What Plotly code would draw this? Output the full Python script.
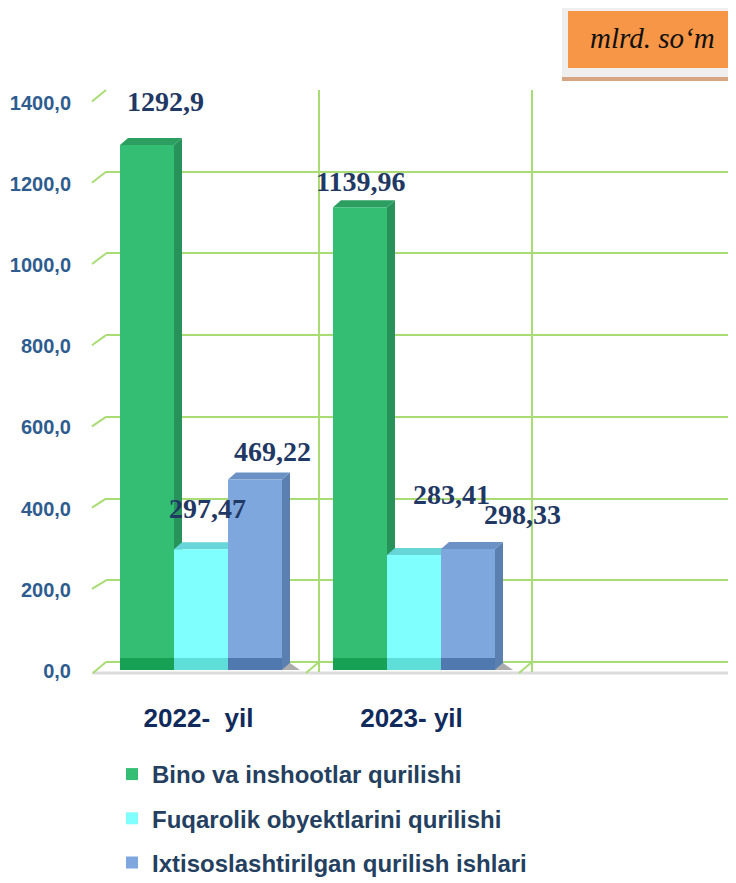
import plotly.graph_objects as go

# ---- data ----
categories = ["2022- yil", "2023- yil", " "]
tick_labels = ["2022-\u00a0 yil", "2023- yil", ""]
series_names = ["Bino va inshootlar qurilishi",
                "Fuqarolik obyektlarini qurilishi",
                "Ixtisoslashtirilgan qurilish ishlari"]
bino = [1292.9, 1139.96]
fuqarolik = [297.47, 283.41]
ixtisos = [469.22, 298.33]
bino_txt = ["1292,9", "1139,96"]
fuqarolik_txt = ["297,47", "283,41"]
ixtisos_txt = ["469,22", "298,33"]
y_ticks = [0, 200, 400, 600, 800, 1000, 1200, 1400]
y_tick_labels = ["0,0", "200,0", "400,0", "600,0", "800,0", "1000,0", "1200,0", "1400,0"]
unit_label = "mlrd. so\u2018m"

# ---- geometry (reference pixels; page has an 8px body margin) ----
OFF = 8
W, H = 736 - OFF, 883 - OFF
R_ML, R_MT, R_PB = 106, 90, 672
ML, MT = R_ML - OFF, R_MT - OFF
PB = R_PB - OFF
MB = H - PB
PW, PH = W - ML, PB - MT
CAT_PX = 213
XR = [-0.5, -0.5 + PW / CAT_PX]
back_ppu = (662 - 90) / 1400          # back wall grid: 0 at 662, 1400 at 90
YR_BACK = [-(R_PB - 662) / back_ppu, -(R_PB - 662) / back_ppu + PH / back_ppu]
front_ppu = 0.406                      # front plane (bars): 0 at 670
YR_FRONT = [-(R_PB - 670) / front_ppu, -(R_PB - 670) / front_ppu + PH / front_ppu]

front = ["#33BE73", "#80FFFF", "#7EA7DD"]
side = ["#27935A", "#5CCFD2", "#5B7FAE"]
top = ["#2C9F60", "#66D6D8", "#6C91C4"]
band = ["#16A154", "#5EDDD9", "#5079B0"]
bar_w = 54 / CAT_PX
offsets = [-92.5 / CAT_PX, -38.5 / CAT_PX, 15.5 / CAT_PX]
dx = 8 / CAT_PX
dy = 7 / front_ppu

label_font = dict(family="Liberation Serif, Times New Roman, serif", size=28,
                  color="#1F3864", weight="bold")
sans = "Liberation Sans, Arial, sans-serif"
lab_shift = [[(18, 44), (0, 26)], [(6, 41), (37, 60)], [(17, 28), (54, 34)]]

series = [bino, fuqarolik, ixtisos]
texts = [bino_txt, fuqarolik_txt, ixtisos_txt]


def px_x(p):
    return (p - OFF - ML) / PW


def px_y(p):
    return (PB - (p - OFF)) / PH


grid_col = "#A9DC74"
fig = go.Figure()
shapes = []
annotations = []

# floor
shapes.append(dict(type="line", xref="paper", yref="paper", layer="below",
                   x0=px_x(92), y0=px_y(673), x1=1.02, y1=px_y(673),
                   line=dict(color="#DCDCDC", width=3)))
for b in range(0, 3):
    bx = R_ML + b * CAT_PX
    shapes.append(dict(type="line", xref="paper", yref="paper", layer="below",
                       x0=px_x(bx - 13), y0=px_y(673), x1=px_x(bx), y1=px_y(662),
                       line=dict(color=grid_col, width=2)))
# left wall slants
for t in y_ticks[1:]:
    shapes.append(dict(type="line", xref="paper", yref="paper", layer="below",
                       x0=px_x(92), y0=px_y(670 - t * front_ppu),
                       x1=px_x(R_ML), y1=px_y(662 - t * back_ppu),
                       line=dict(color=grid_col, width=2)))

for i, (name, vals) in enumerate(zip(series_names, series)):
    fig.add_trace(go.Bar(
        x=categories[:len(vals)], y=vals, name=name, yaxis="y",
        width=bar_w, offset=offsets[i],
        marker=dict(color=front[i], line=dict(width=0)),
        legendgroup=str(i), hoverinfo="skip",
    ))
    for c, v in enumerate(vals):
        x0 = c + offsets[i]
        x1 = x0 + bar_w
        shapes.append(dict(type="path", xref="x", yref="y", layer="between",
                           path=f"M {x1},0 L {x1+dx},{dy} L {x1+dx},{v+dy} L {x1},{v} Z",
                           fillcolor=side[i], line=dict(width=0)))
        shapes.append(dict(type="path", xref="x", yref="y", layer="between",
                           path=f"M {x0},{v} L {x0+dx},{v+dy} L {x1+dx},{v+dy} L {x1},{v} Z",
                           fillcolor=top[i], line=dict(width=0)))
        shapes.append(dict(type="rect", xref="x", yref="y", layer="above",
                           x0=x0, x1=x1, y0=0, y1=12 / front_ppu,
                           fillcolor=band[i], line=dict(width=0)))
        if i == 2:
            sw = 18 / CAT_PX
            shapes.append(dict(type="path", xref="x", yref="y", layer="between",
                               path=f"M {x1},0 L {x1+sw},0 L {x1+dx},{dy} Z",
                               fillcolor="rgba(70,70,70,0.45)", line=dict(width=0)))
        sx, sy = lab_shift[i][c]
        annotations.append(dict(x=x0 + bar_w / 2, y=v, xref="x", yref="y",
                                text=texts[i][c], showarrow=False,
                                xshift=sx, yshift=sy, font=label_font))

# invisible trace so the back-wall grid axis is drawn
fig.add_trace(go.Scatter(x=[categories[0]], y=[0], yaxis="y2", mode="markers",
                         marker=dict(opacity=0), showlegend=False, hoverinfo="skip"))

# unit box
shapes.append(dict(type="rect", xref="paper", yref="paper", layer="above",
                   x0=px_x(562), x1=px_x(745), y0=px_y(78), y1=px_y(0),
                   fillcolor="#EFEFEF", line=dict(width=0)))
shapes.append(dict(type="rect", xref="paper", yref="paper", layer="above",
                   x0=px_x(562), x1=px_x(745), y0=px_y(81), y1=px_y(77),
                   fillcolor="#D6A583", line=dict(width=0)))
shapes.append(dict(type="rect", xref="paper", yref="paper", layer="above",
                   x0=px_x(568), x1=px_x(745), y0=px_y(68), y1=px_y(11),
                   fillcolor="#F79646", line=dict(width=0)))
annotations.append(dict(x=px_x(652), y=px_y(38), xref="paper", yref="paper",
                        xanchor="center", yanchor="middle",
                        text="<i>" + unit_label + "</i>", showarrow=False,
                        font=dict(family="Liberation Serif, Times New Roman, serif",
                                  size=29, color="#111111")))

fig.update_layout(
    width=W, height=H,
    margin=dict(l=ML, r=0, t=MT, b=MB, autoexpand=False),
    paper_bgcolor="white", plot_bgcolor="white",
    barmode="overlay",
    showlegend=True,
    legend=dict(orientation="v", x=px_x(112), y=px_y(752), xanchor="left", yanchor="top",
                font=dict(family=sans, size=24, color="#243F60", weight="bold"),
                traceorder="grouped", tracegroupgap=10, itemwidth=30,
                bgcolor="rgba(0,0,0,0)"),
    shapes=shapes,
    annotations=annotations,
    xaxis=dict(type="category", categoryorder="array", categoryarray=categories,
               tickmode="array", tickvals=categories, ticktext=tick_labels,
               range=XR, tickson="boundaries", showgrid=True, gridcolor=grid_col, gridwidth=2,
               ticks="", showline=False, zeroline=False, automargin=False,
               tickfont=dict(family=sans, size=26, color="#102A5C", weight="bold"),
               ticklabelstandoff=28, ticklabelshift=-14),
    yaxis=dict(range=YR_FRONT, tickmode="array",
               tickvals=y_ticks, ticktext=y_tick_labels, automargin=False,
               showgrid=False, zeroline=False, showline=False, ticks="",
               tickfont=dict(family=sans, size=20, color="#2F5C8F", weight="bold"),
               ticklabelstandoff=34, ticklabelshift=1),
    yaxis2=dict(range=YR_BACK, overlaying="y", side="left", tickmode="array",
                tickvals=y_ticks, showticklabels=False, automargin=False,
                showgrid=True, gridcolor=grid_col, gridwidth=2,
                zeroline=False, showline=False, ticks=""),
)

fig.write_html("out.html")
